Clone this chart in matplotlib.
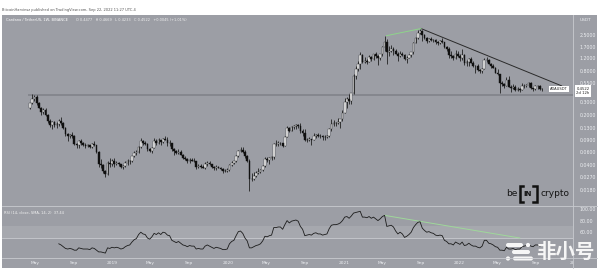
import numpy as np
import pandas as pd
import matplotlib
matplotlib.use("Agg")
import matplotlib.pyplot as plt
import matplotlib.dates as mdates
from matplotlib.patches import Rectangle, FancyBboxPatch, Circle
from matplotlib.ticker import NullLocator

plt.rcParams['font.family'] = ['DejaVu Sans']

# ---------------- data (weekly ADA/USDT candles) ----------------
first_week = "2018-04-16"
first_open = 0.245

closes_2018 = [0.285, 0.33, 0.355, 0.285, 0.25, 0.22, 0.23, 0.20, 0.165, 0.145, 0.16, 0.145, 0.15, 0.165,
               0.155, 0.13, 0.108, 0.10, 0.104, 0.10, 0.078, 0.075, 0.085, 0.082, 0.077, 0.074, 0.075, 0.071,
               0.079, 0.076, 0.061, 0.042, 0.04, 0.033, 0.03, 0.043, 0.041, 0.045]
highs_2018 = [0.29, 0.39, 0.37, 0.37, 0.30, 0.255, 0.245, 0.245, 0.205, 0.175, 0.165, 0.165, 0.16, 0.175,
              0.185, 0.16, 0.135, 0.11, 0.108, 0.115, 0.105, 0.082, 0.09, 0.092, 0.084, 0.08, 0.078, 0.076,
              0.08, 0.085, 0.077, 0.062, 0.048, 0.042, 0.034, 0.046, 0.051, 0.049]
lows_2018 = [0.24, 0.28, 0.31, 0.27, 0.245, 0.195, 0.205, 0.19, 0.155, 0.135, 0.125, 0.135, 0.13, 0.14,
             0.145, 0.125, 0.10, 0.086, 0.095, 0.095, 0.075, 0.07, 0.068, 0.076, 0.074, 0.068, 0.071, 0.069,
             0.07, 0.074, 0.058, 0.038, 0.036, 0.031, 0.0277, 0.029, 0.038, 0.039]

closes_2019 = [0.042, 0.043, 0.041, 0.038, 0.039, 0.043, 0.045, 0.046, 0.053, 0.058, 0.06, 0.072, 0.085,
               0.08, 0.078, 0.066, 0.063, 0.07, 0.085, 0.082, 0.088, 0.083, 0.092, 0.09, 0.082, 0.08, 0.066,
               0.062, 0.058, 0.061, 0.056, 0.05, 0.049, 0.045, 0.047, 0.046, 0.045, 0.038, 0.039, 0.038,
               0.037, 0.041, 0.043, 0.041, 0.038, 0.036, 0.038, 0.037, 0.035, 0.033, 0.033, 0.034]
highs_2019 = [0.051, 0.046, 0.044, 0.042, 0.040, 0.045, 0.049, 0.047, 0.054, 0.062, 0.064, 0.073, 0.095,
              0.09, 0.085, 0.08, 0.068, 0.072, 0.095, 0.092, 0.095, 0.09, 0.096, 0.10, 0.098, 0.09, 0.082,
              0.07, 0.064, 0.066, 0.064, 0.057, 0.054, 0.05, 0.05, 0.051, 0.05, 0.046, 0.041, 0.041,
              0.04, 0.044, 0.046, 0.045, 0.042, 0.039, 0.04, 0.039, 0.038, 0.036, 0.035, 0.036]
lows_2019 = [0.038, 0.040, 0.039, 0.036, 0.035, 0.038, 0.040, 0.042, 0.044, 0.052, 0.056, 0.058, 0.07,
             0.075, 0.076, 0.062, 0.060, 0.059, 0.068, 0.077, 0.078, 0.075, 0.08, 0.088, 0.074, 0.074, 0.062,
             0.056, 0.057, 0.057, 0.055, 0.048, 0.047, 0.043, 0.043, 0.045, 0.044, 0.035, 0.036, 0.036,
             0.036, 0.035, 0.039, 0.040, 0.037, 0.034, 0.034, 0.036, 0.034, 0.031, 0.032, 0.032]

closes_2020 = [0.04, 0.043, 0.045, 0.053, 0.063, 0.065, 0.061, 0.053, 0.046, 0.026, 0.026, 0.028, 0.031,
               0.032, 0.034, 0.039, 0.049, 0.047, 0.05, 0.052, 0.078, 0.078, 0.08, 0.08, 0.074, 0.098, 0.13,
               0.12, 0.135, 0.14, 0.145, 0.14, 0.12, 0.11, 0.088, 0.09, 0.092, 0.09, 0.10, 0.105, 0.10, 0.10,
               0.097, 0.098, 0.10, 0.125, 0.15, 0.155, 0.155, 0.16, 0.175, 0.21]
highs_2020 = [0.041, 0.045, 0.046, 0.055, 0.064, 0.072, 0.072, 0.064, 0.055, 0.048, 0.031, 0.032, 0.033,
              0.036, 0.035, 0.040, 0.052, 0.052, 0.052, 0.053, 0.08, 0.09, 0.087, 0.084, 0.082, 0.10, 0.14,
              0.135, 0.14, 0.145, 0.15, 0.15, 0.155, 0.125, 0.125, 0.095, 0.099, 0.093, 0.11, 0.108, 0.11,
              0.108, 0.104, 0.105, 0.105, 0.13, 0.175, 0.17, 0.16, 0.18, 0.175, 0.23]
lows_2020 = [0.033, 0.039, 0.041, 0.044, 0.052, 0.06, 0.058, 0.051, 0.044, 0.0174, 0.024, 0.025, 0.027,
             0.030, 0.031, 0.033, 0.038, 0.044, 0.042, 0.047, 0.049, 0.073, 0.074, 0.077, 0.071, 0.073, 0.097,
             0.115, 0.118, 0.125, 0.125, 0.13, 0.11, 0.10, 0.085, 0.084, 0.085, 0.077, 0.088, 0.095, 0.098,
             0.095, 0.09, 0.09, 0.095, 0.098, 0.12, 0.14, 0.14, 0.15, 0.13, 0.165]

closes_2021 = [0.30, 0.33, 0.31, 0.40, 0.69, 0.85, 1.00, 1.35, 1.07, 1.10, 1.08, 1.27, 1.19, 1.38, 1.30,
               1.20, 1.38, 1.73, 2.05, 1.45, 1.52, 1.60, 1.53, 1.40, 1.30, 1.40, 1.33, 1.17, 1.23, 1.33,
               1.45, 1.97, 2.28, 2.68, 2.88, 2.50, 2.30, 2.10, 2.25, 2.18, 2.18, 2.00, 1.98, 2.07, 2.05,
               1.70, 1.60, 1.35, 1.28, 1.20, 1.40, 1.30]
highs_2021 = [0.34, 0.35, 0.38, 0.40, 0.72, 0.95, 1.12, 1.48, 1.38, 1.24, 1.17, 1.35, 1.30, 1.40, 1.48,
              1.35, 1.40, 1.80, 2.47, 2.20, 1.80, 1.86, 1.72, 1.62, 1.45, 1.50, 1.48, 1.40, 1.28, 1.39,
              1.48, 2.05, 2.35, 2.97, 3.10, 2.96, 2.60, 2.35, 2.30, 2.35, 2.25, 2.20, 2.10, 2.15, 2.30,
              2.05, 1.80, 1.70, 1.50, 1.35, 1.55, 1.50]
lows_2021 = [0.21, 0.25, 0.28, 0.28, 0.39, 0.62, 0.80, 0.85, 1.05, 1.05, 1.00, 1.08, 1.12, 1.15, 1.20,
             0.97, 1.15, 1.30, 1.50, 1.00, 1.30, 1.45, 1.35, 1.36, 1.10, 1.25, 1.30, 1.15, 1.03, 1.20,
             1.26, 1.40, 1.95, 2.20, 2.60, 2.10, 2.25, 1.96, 2.05, 2.10, 2.05, 1.90, 1.85, 1.90, 1.95,
             1.65, 1.50, 1.20, 1.20, 1.15, 1.17, 1.25]

closes_2022 = [1.20, 1.35, 1.05, 1.08, 1.18, 1.05, 0.95, 0.95, 0.83, 0.80, 0.85, 1.15, 1.15, 1.00, 0.95,
               0.88, 0.76, 0.72, 0.55, 0.53, 0.50, 0.60, 0.48, 0.47, 0.48, 0.44, 0.45, 0.44, 0.49, 0.50,
               0.52, 0.55, 0.46, 0.45, 0.49, 0.49, 0.4477, 0.4522]
highs_2022 = [1.38, 1.60, 1.40, 1.15, 1.20, 1.25, 1.12, 0.98, 1.00, 0.85, 0.88, 1.20, 1.25, 1.17, 1.02,
              1.01, 0.92, 0.85, 0.72, 0.58, 0.55, 0.66, 0.69, 0.52, 0.53, 0.52, 0.48, 0.46, 0.55, 0.53,
              0.53, 0.56, 0.57, 0.47, 0.51, 0.52, 0.51, 0.4669]
lows_2022 = [1.10, 1.15, 0.96, 0.95, 0.95, 1.02, 0.90, 0.75, 0.80, 0.75, 0.76, 0.85, 1.08, 1.00, 0.88,
             0.88, 0.75, 0.70, 0.40, 0.50, 0.46, 0.50, 0.48, 0.41, 0.45, 0.42, 0.43, 0.41, 0.44, 0.46,
             0.48, 0.48, 0.45, 0.42, 0.44, 0.45, 0.44, 0.4233]

closes = closes_2018 + closes_2019 + closes_2020 + closes_2021 + closes_2022
highs = highs_2018 + highs_2019 + highs_2020 + highs_2021 + highs_2022
lows = lows_2018 + lows_2019 + lows_2020 + lows_2021 + lows_2022
opens = [first_open] + closes[:-1]
dates = pd.date_range(first_week, periods=len(closes), freq="7D")

# RSI(14) weekly values, starting at week index 13
rsi_first_index = 13
rsi_values = [40, 38, 35, 32, 31, 32, 31, 29, 29, 33, 32, 31, 31, 31, 30, 33, 32, 29, 26, 26, 25, 24,
              33, 32, 34, 33, 34, 33, 31, 32, 35, 37, 38, 43, 47, 49, 56, 60, 57, 56, 50, 48, 52, 58,
              56, 59, 56, 60, 59, 55, 54, 46, 44, 42, 44, 41, 38, 37, 35, 37, 36, 36, 31, 32, 31, 31,
              36, 38, 36, 34, 32, 34, 33, 32, 30, 30, 31, 40, 44, 46, 54, 61, 62, 58, 50, 45, 33, 33,
              35, 37, 38, 40, 45, 53, 52, 54, 55, 68, 68, 69, 69, 65, 73, 80, 76, 79, 80, 81, 79, 70,
              65, 54, 55, 56, 55, 58, 59, 57, 57, 55, 56, 57, 66, 72, 73, 73, 74, 76, 80, 86, 87, 84,
              88, 93, 94, 95, 96, 86, 86, 85, 87, 84, 86, 83, 80, 83, 87, 89, 70, 71, 72, 69, 62, 57,
              60, 57, 51, 53, 56, 60, 68, 73, 77, 78, 67, 63, 60, 61, 59, 58, 55, 54, 55, 54, 46, 44,
              40, 40, 38, 43, 41, 39, 43, 37, 38, 41, 38, 36, 36, 34, 33, 36, 46, 46, 41, 40, 38, 35,
              34, 29, 29, 28, 34, 31, 31, 32, 30, 31, 31, 35, 36, 37, 39, 36, 35, 38, 38, 36, 37.44]
rsi_dates = dates[rsi_first_index:rsi_first_index + len(rsi_values)]

support_band = [0.36, 0.39]
trend_dates = ["2021-09-02", "2022-11-20"]
trend_prices = [3.10, 0.50]
green_dates = ["2021-05-16", "2021-09-02"]
green_prices = [2.47, 3.10]
rsi_green_dates = ["2021-05-10", "2022-07-11"]
rsi_green_values = [89, 50]

price_ticks = [2.5, 1.7, 1.2, 0.8, 0.55, 0.3, 0.2, 0.13, 0.09, 0.06, 0.04, 0.027, 0.018]
price_tick_labels = ["2.5000", "1.7000", "1.2000", "0.8000", "0.5500", "0.3000", "0.2000", "0.1300",
                     "0.0900", "0.0600", "0.0400", "0.0270", "0.0180"]
rsi_ticks = [100, 80, 60]
rsi_tick_labels = ["100.00", "80.00", "60.00"]
time_ticks = ["2018-05-01", "2018-09-01", "2019-01-01", "2019-05-01", "2019-09-01", "2020-01-01",
              "2020-05-01", "2020-09-01", "2021-01-01", "2021-05-01", "2021-09-01", "2022-01-01",
              "2022-05-01", "2022-09-01", "2023-01-01"]
time_labels = ["May", "Sep", "2019", "May", "Sep", "2020", "May", "Sep", "2021", "May", "Sep", "2022",
               "May", "Sep", "2023"]
last_price = 0.4522

# ---------------- layout ----------------
W, H = 600, 272
BG = '#9c9ea5'
LIGHT = '#eceef1'
SEP = '#c9cbd0'

def frac(x0, y0, x1, y1):
    return [x0 / W, 1 - y1 / H, (x1 - x0) / W, (y1 - y0) / H]

fig = plt.figure(figsize=(6.0, 2.72), dpi=100)
fig.patch.set_facecolor('white')

ax_bg = fig.add_axes([0, 0, 1, 1], zorder=-10)
ax_bg.set_xlim(0, W); ax_bg.set_ylim(H, 0); ax_bg.axis('off')
ax_bg.add_patch(Rectangle((2, 15), 595, 253, facecolor=BG, edgecolor='none'))

PX_PER_DAY = 0.3166
X0_PX, X1_PX, FIRST_PX = 2, 573, 30
d0 = mdates.date2num(dates[0])
xl = d0 - (FIRST_PX - X0_PX) / PX_PER_DAY
xr = xl + (X1_PX - X0_PX) / PX_PER_DAY

# main price axes
ax = fig.add_axes(frac(2, 15, 573, 206), zorder=1)
ax.set_facecolor('none')
ax.set_yscale('log')
ANCHOR_Y, PX_PER_DEC = 89.0, 72.3
ytop = last_price * 10 ** ((ANCHOR_Y - 15) / PX_PER_DEC)
ybot = last_price * 10 ** ((ANCHOR_Y - 206) / PX_PER_DEC)
ax.set_ylim(ybot, ytop)
ax.set_xlim(xl, xr)

x = mdates.date2num(dates)
o = np.array(opens); c = np.array(closes)
hi = np.array(highs); lo = np.array(lows)
up = c >= o
ax.fill_between([x[0] - 6, xr], support_band[0], support_band[1], color='#85878e', lw=0, zorder=1)
ax.vlines(x, lo, hi, color='#151515', lw=0.55, zorder=2)
ax.bar(x[up], (c - o)[up], bottom=o[up], width=5.4, color='#f7f7f7', edgecolor='#151515',
       linewidth=0.25, zorder=3)
ax.bar(x[~up], (o - c)[~up], bottom=c[~up], width=5.4, color='#101010', edgecolor='#101010',
       linewidth=0.3, zorder=3)
ax.plot(pd.to_datetime(trend_dates), trend_prices, color='#2a2a2a', lw=0.7, zorder=4)
ax.plot(pd.to_datetime(green_dates), green_prices, color='#8ed48a', lw=0.7, zorder=4)

for s in ax.spines.values():
    s.set_visible(False)
ax.tick_params(axis='x', which='both', bottom=False, labelbottom=False)
ax.yaxis.tick_right()
ax.set_yticks(price_ticks, labels=price_tick_labels)
ax.yaxis.set_minor_locator(NullLocator())
ax.tick_params(axis='y', which='both', length=0, pad=5, labelsize=3.4, labelcolor=LIGHT)

# RSI axes
ax_r = fig.add_axes(frac(2, 206, 573, 258), zorder=1)
ax_r.set_facecolor('none')
RSI_PX = 29 / 50.0
ax_r.set_ylim(50 - (258 - 238) / RSI_PX, 100 + (209 - 206) / RSI_PX)
ax_r.set_xlim(xl, xr)
ax_r.axhspan(50, 70, color='#a6a8ae', lw=0, zorder=0)
ax_r.axhline(50, color=SEP, lw=0.6, zorder=1)
ax_r.plot(pd.to_datetime(rsi_green_dates), rsi_green_values, color='#9fd89a', lw=0.7, zorder=2)
ax_r.plot(rsi_dates, rsi_values, color='#1c1c1c', lw=0.6, zorder=3)
for s in ax_r.spines.values():
    s.set_visible(False)
ax_r.tick_params(axis='x', which='both', bottom=False, labelbottom=False)
ax_r.yaxis.tick_right()
ax_r.set_yticks(rsi_ticks, labels=rsi_tick_labels)
ax_r.tick_params(axis='y', length=0, pad=5, labelsize=3.4, labelcolor=LIGHT)

# time axis strip
ax_t = fig.add_axes(frac(2, 258, 573, 268), zorder=1)
ax_t.set_facecolor('none')
ax_t.set_xlim(xl, xr); ax_t.set_ylim(0, 1); ax_t.axis('off')
for d, lab in zip(pd.to_datetime(time_ticks), time_labels):
    ax_t.text(mdates.date2num(d), 0.5, lab, ha='center', va='center', fontsize=3.2,
              color=LIGHT, clip_on=True)

# overlay (pixel coordinates)
ov = fig.add_axes([0, 0, 1, 1], zorder=10)
ov.set_xlim(0, W); ov.set_ylim(H, 0); ov.axis('off'); ov.set_facecolor('none')
ov.plot([2, 597], [206, 206], color=SEP, lw=0.6)
ov.plot([2, 597], [258, 258], color=SEP, lw=0.6)
ov.plot([573, 573], [15, 268], color=SEP, lw=0.6)

ov.text(2, 10, "BitcoinHarvinsz published on TradingView.com, Sep 22, 2022 11:27 UTC-4",
        fontsize=2.6, color='#555555', va='center', ha='left')
ov.text(6, 20, "Cardano / TetherUS, 1W, BINANCE", fontsize=2.6, color='white', va='center', ha='left')
ov.text(76, 20, "O 0.4477   H 0.4669   L 0.4233   C 0.4522   +0.0045 (+1.01%)", fontsize=2.5,
        color='#f2f2f2', va='center', ha='left')
ov.text(585, 20, "USDT", fontsize=3.2, color=LIGHT, va='center', ha='center')
ov.text(4, 213, "RSI (14, close, SMA, 14, 2)  37.44", fontsize=2.6, color='#f2f2f2', va='center', ha='left')

# price labels
ov.text(559, 89, "ADAUSDT", fontsize=2.6, color='#222222', ha='center', va='center',
        bbox=dict(boxstyle='square,pad=0.35', fc='white', ec='none'))
ov.text(583, 91, "0.4522\n2d 12h", fontsize=2.7, color='#222222', ha='center', va='center',
        linespacing=1.1, bbox=dict(boxstyle='square,pad=0.4', fc='white', ec='none'))

# be[IN]crypto logo
ov.text(512, 193, "be", fontsize=6.5, color='#141414', ha='center', va='center')
for xs in ([523, 519.5, 519.5, 523], [533, 536.5, 536.5, 533]):
    ov.plot(xs, [185.5, 185.5, 201.5, 201.5], color='#111111', lw=1.8, solid_joinstyle='miter')
ov.text(528, 193.5, "IN", fontsize=5, fontweight='bold', color='#111111', ha='center', va='center')
ov.text(555, 193, "crypto", fontsize=6.5, color='#141414', ha='center', va='center')

# watermark
wm = '#f6f6f6'
ov.add_patch(FancyBboxPatch((506, 243), 17, 4, boxstyle='round,pad=0,rounding_size=2', fc=wm, ec='none'))
ov.add_patch(Circle((528, 245), 2.1, fc=wm, ec='none'))
ov.add_patch(FancyBboxPatch((512, 250), 18, 4, boxstyle='round,pad=0,rounding_size=2', fc=wm, ec='none'))
ov.add_patch(Circle((508, 258.5), 2.1, fc=wm, ec='none'))
ov.add_patch(FancyBboxPatch((513, 256.5), 20, 4, boxstyle='round,pad=0,rounding_size=2', fc=wm, ec='none'))
ov.text(565, 252, "非小号", fontsize=14, fontweight='bold', color=wm, ha='center', va='center',
        family=['Noto Sans CJK SC', 'DejaVu Sans'])

fig.savefig("out.png", dpi=100)
